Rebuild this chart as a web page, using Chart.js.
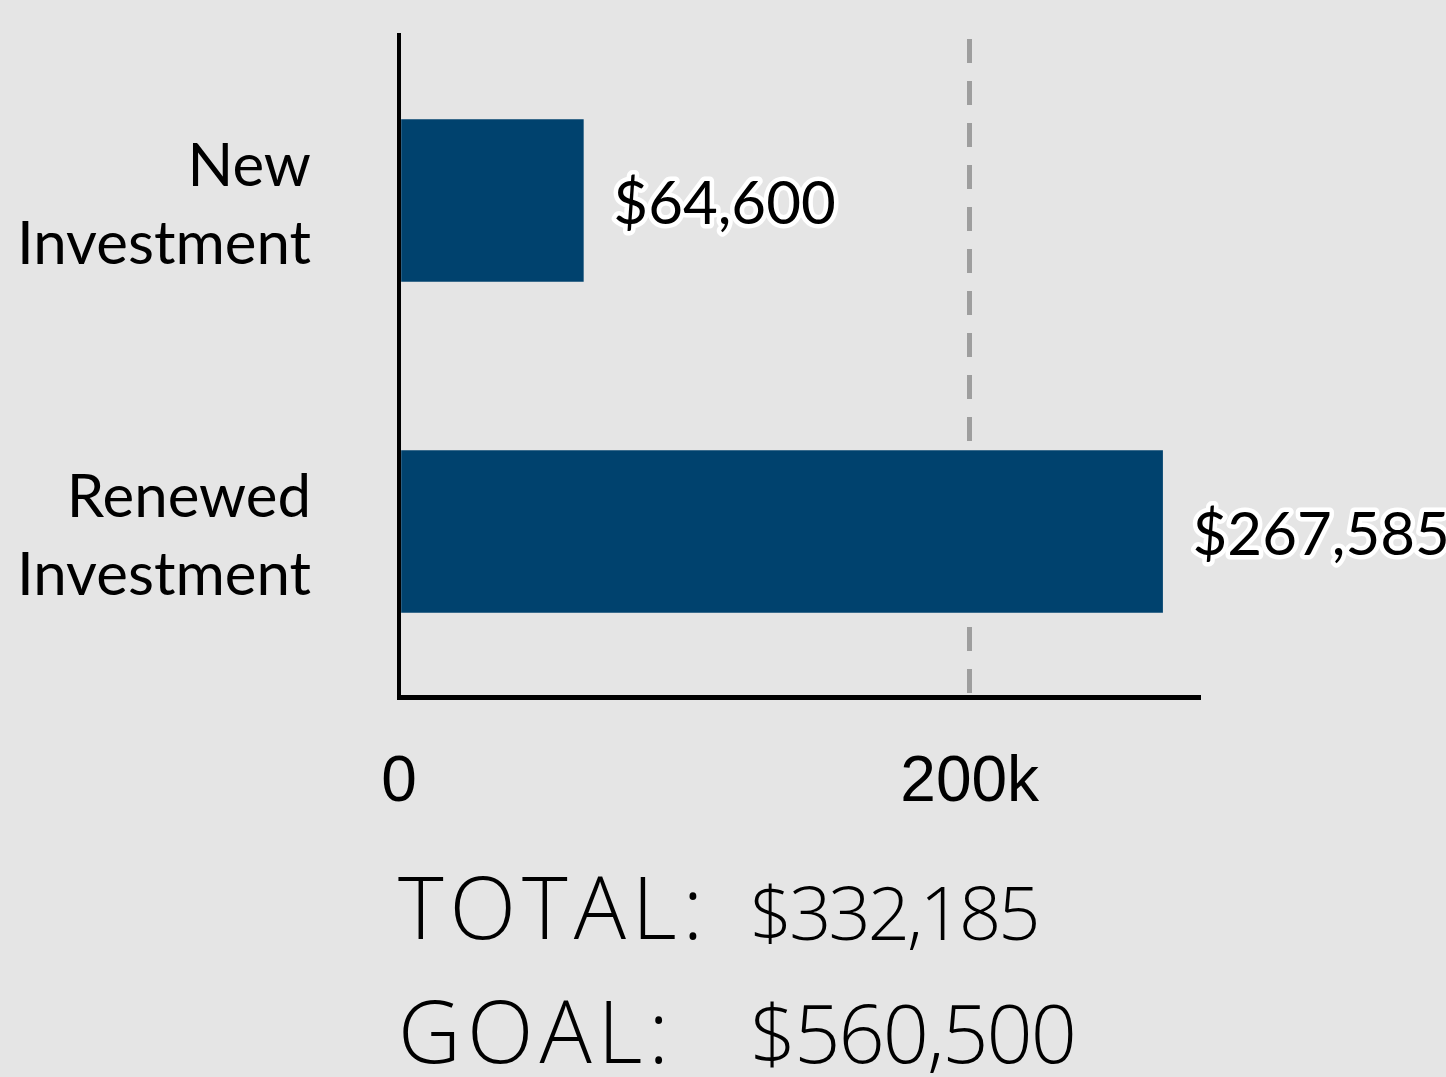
<!DOCTYPE html>
<html>
<head>
<meta charset="utf-8">
<script src="https://cdn.jsdelivr.net/npm/chart.js@4.4.1/dist/chart.umd.min.js"></script>
<style>
  html, body { margin: 0; padding: 0; background: #e5e5e5; }
  #wrap { position: relative; width: 1446px; height: 1077px; overflow: hidden; }
  canvas { position: absolute; left: 0; top: 0; }
  .sum { position: absolute; font-family: "Open Sans", sans-serif; font-weight: 300; color: #000; line-height: 1; white-space: nowrap; }
  .big { font-size: 87px; letter-spacing: 6px; }
  .num { font-size: 74px; letter-spacing: -3px; }
  .num2 { font-size: 81px; letter-spacing: -2px; }
</style>
</head>
<body>
<div id="wrap">
  <canvas id="investChart" width="1446" height="1077"></canvas>
  <div class="sum big" style="left:398px; top:862px;">TOTAL:</div>
  <div class="sum num" style="left:750px; top:875px;">$332,185</div>
  <div class="sum big" style="left:398px; top:986px;">GOAL:</div>
  <div class="sum num2" style="left:750px; top:991px;">$560,500</div>
</div>
<script>
const categories = [['New', 'Investment'], ['Renewed', 'Investment']];
const amounts = [64600, 267585];
const tickValues = [0, 200000];
const tickLabels = ['0', '200k'];
const axisMax = 280000;

// draws "$64,600" style labels with a white halo next to each bar
const valueLabels = {
    id: 'valueLabels',
    afterDatasetsDraw(chart) {
        const ctx = chart.ctx;
        const meta = chart.getDatasetMeta(0);
        ctx.save();
        ctx.font = '60px Lato, sans-serif';
        ctx.textAlign = 'left';
        ctx.textBaseline = 'middle';
        ctx.lineJoin = 'round';
        meta.data.forEach((bar, i) => {
            const text = '$' + amounts[i].toLocaleString('en-US');
            const x = bar.x + 30;
            const y = bar.y + 4;
            ctx.strokeStyle = '#ffffff';
            ctx.lineWidth = 9;
            ctx.strokeText(text, x, y);
            ctx.fillStyle = '#000000';
            ctx.fillText(text, x, y);
        });
        ctx.restore();
    }
};

const ctx = document.getElementById('investChart').getContext('2d');
let investChart = new Chart(ctx, {
    type: 'bar',
    data: {
        labels: categories,
        datasets: [{
            data: amounts,
            backgroundColor: '#00426e',
            barThickness: 162
        }]
    },
    options: {
        indexAxis: 'y',
        responsive: false,
        animation: false,
        layout: {
            padding: { top: 35, right: 248, bottom: 260, left: 0 }
        },
        plugins: {
            legend: { display: false },
            tooltip: { enabled: false }
        },
        scales: {
            x: {
                min: 0,
                max: axisMax,
                afterBuildTicks: (scale) => {
                    scale.ticks = tickValues.map(v => ({ value: v }));
                },
                afterFit: (scale) => {
                    scale.height = 120;
                    scale.paddingLeft = 0;
                    scale.paddingRight = 0;
                },
                grid: {
                    drawTicks: false,
                    lineWidth: 5,
                    color: (c) => (c.tick && c.tick.value === 200000) ? '#9e9e9e' : 'transparent'
                },
                border: { display: true, color: '#000', width: 5, dash: [24, 18], dashOffset: 38 },
                ticks: {
                    padding: 48,
                    color: '#000',
                    font: { family: '"Liberation Sans Narrow", "Liberation Sans", Arial', size: 64 },
                    callback: (value) => tickLabels[tickValues.indexOf(value)]
                }
            },
            y: {
                afterFit: (scale) => {
                    scale.width = 399;
                    scale.paddingTop = 0;
                    scale.paddingBottom = 0;
                },
                grid: { display: false, drawTicks: false },
                border: { display: true, color: '#000', width: 4 },
                ticks: {
                    padding: 88,
                    labelOffset: 5,
                    color: '#000',
                    font: { family: 'Lato, sans-serif', size: 60, lineHeight: 1.3 }
                }
            }
        }
    },
    plugins: [valueLabels]
});
</script>
</body>
</html>
